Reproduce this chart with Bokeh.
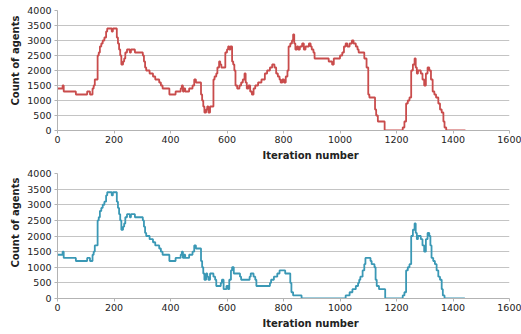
from bokeh.plotting import figure
from bokeh.layouts import column
from bokeh.models import Title, Range1d, FixedTicker
from bokeh.embed import file_html
from bokeh.resources import INLINE

# Shared beginning (iteration, count) breakpoints
common_iter = [0, 18, 22, 65, 105, 115, 124, 128, 132, 142, 146, 150, 155, 160, 166, 172, 176, 192, 196,
               210, 214, 218, 222, 226, 232, 236, 240, 246, 256, 260, 274, 302, 306, 310, 314, 326, 338,
               346, 360, 366, 372, 396, 418, 436, 440, 444, 448, 452, 466, 478, 484, 490]
common_val = [1400, 1500, 1300, 1200, 1300, 1200, 1400, 1500, 1700, 2500, 2600, 2800, 2900, 3000, 3100, 3300, 3400, 3300, 3400,
              3100, 2900, 2700, 2500, 2200, 2300, 2400, 2600, 2700, 2600, 2700, 2600, 2500, 2300, 2100, 2000, 1900, 1800,
              1700, 1600, 1500, 1400, 1200, 1300, 1400, 1500, 1300, 1400, 1300, 1400, 1500, 1700, 1600]

red_iter = [508, 512, 516, 520, 526, 530, 534, 540, 552, 556, 562, 566, 572, 576, 580, 594, 600, 604, 608, 612,
            618, 622, 626, 630, 636, 644, 650, 656, 662, 666, 670, 676, 682, 688, 694, 700, 710, 722, 734, 742,
            752, 760, 768, 774, 780, 786, 790, 796, 802, 808, 814, 818, 824, 830, 834, 838, 842, 848, 852, 858,
            866, 872, 878, 890, 896, 900, 906, 910, 960, 972, 978, 1000, 1008, 1014, 1020, 1026, 1034, 1042, 1048,
            1056, 1062, 1066, 1086, 1094, 1100, 1104, 1124, 1128, 1134, 1158, 1222, 1228, 1234, 1240, 1246, 1252,
            1258, 1264, 1268, 1272, 1276, 1286, 1292, 1298, 1304, 1310, 1316, 1322, 1328, 1334, 1340, 1348, 1354,
            1360, 1366, 1370, 1376, 1444]
red_val = [1200, 1000, 800, 600, 700, 800, 600, 800, 1700, 1800, 1900, 2100, 2300, 2200, 2100, 2600, 2700, 2800, 2700, 2800,
           2300, 2200, 2000, 1500, 1400, 1500, 1600, 1700, 1900, 1600, 1400, 1500, 1300, 1200, 1400, 1500, 1600, 1700, 1900, 2000,
           2100, 2200, 2100, 1900, 1800, 1700, 1600, 1700, 1600, 1800, 2000, 2800, 2900, 3000, 3200, 2900, 2700, 2800, 2700, 2800,
           2900, 2700, 2800, 2900, 2800, 2700, 2600, 2400, 2300, 2200, 2400, 2500, 2600, 2800, 2900, 2800, 2900, 3000, 2900,
           2800, 2700, 2600, 2400, 2100, 1200, 1100, 700, 500, 300, 0, 100, 300, 900, 1000, 1100, 2000,
           2200, 2400, 2100, 1900, 2000, 1900, 1700, 1500, 1900, 2100, 2000, 1700, 1300, 1200, 1100, 900, 700,
           600, 300, 100, 0, 0]

blue_iter = [508, 512, 516, 520, 526, 530, 534, 540, 552, 558, 562, 578, 582, 588, 598, 604, 608, 614, 618, 624,
             646, 650, 680, 684, 694, 700, 704, 752, 756, 766, 778, 786, 806, 824, 828, 834, 864, 1020, 1034, 1044,
             1056, 1064, 1068, 1072, 1080, 1086, 1090, 1108, 1112, 1122, 1126, 1130, 1138, 1160, 1222, 1228, 1234,
             1240, 1246, 1252, 1258, 1264, 1268, 1272, 1276, 1286, 1292, 1298, 1304, 1310, 1316, 1320, 1324, 1330,
             1336, 1342, 1348, 1354, 1360, 1364, 1370, 1442]
blue_val = [1200, 1000, 800, 600, 800, 700, 600, 800, 700, 600, 400, 500, 600, 300, 400, 300, 600, 900, 1000, 800,
            700, 600, 700, 800, 700, 600, 400, 500, 600, 700, 800, 900, 800, 500, 200, 100, 0, 100, 200, 300,
            400, 500, 600, 700, 900, 1100, 1300, 1200, 1100, 1000, 600, 400, 300, 0, 100, 200, 900,
            1000, 1100, 2000, 2200, 2400, 2100, 1900, 2000, 1900, 1700, 1500, 1900, 2100, 2000, 1700, 1300, 1200,
            1100, 900, 700, 600, 300, 100, 0, 0]

x_ticks = [0, 200, 400, 600, 800, 1000, 1200, 1400, 1600]
y_ticks = [0, 500, 1000, 1500, 2000, 2500, 3000, 3500, 4000]

FONT = "DejaVu Sans"


def make_fig(xs, ys, color, top, fh, bottom, ylab_offset):
    p = figure(width=521, height=top + fh + bottom, output_backend="svg", toolbar_location=None,
               x_range=Range1d(0, 1600), y_range=Range1d(0, 4000),
               min_border_left=57, min_border_right=12, min_border_top=top, min_border_bottom=bottom)
    p.frame_height = fh
    p.frame_width = 452
    p.outline_line_color = None
    p.background_fill_color = "white"
    p.border_fill_color = "white"
    p.step(xs, ys, mode="after", line_color=color, line_width=1.8)

    p.xaxis.ticker = FixedTicker(ticks=x_ticks)
    p.yaxis.ticker = FixedTicker(ticks=y_ticks)
    p.xgrid.grid_line_color = None
    p.ygrid.grid_line_color = "#c4c4c4"
    p.ygrid.grid_line_width = 1
    for ax in (p.xaxis, p.yaxis):
        ax.axis_line_color = "#b3b3b3"
        ax.major_tick_line_color = "#b3b3b3"
        ax.minor_tick_line_color = None
        ax.major_label_text_font = FONT
        ax.major_label_text_font_size = "9.5px"
        ax.major_label_text_color = "#222222"
        ax.major_tick_out = 3
        ax.major_tick_in = 0
    p.xaxis.major_label_standoff = 2
    p.yaxis.major_label_standoff = 3

    p.add_layout(Title(text="Iteration number", align="left", offset=205, text_font=FONT,
                       text_font_size="10px", text_font_style="bold", text_color="#222222",
                       standoff=4), "below")
    p.add_layout(Title(text="Count of agents", align="left", offset=ylab_offset, text_font=FONT,
                       text_font_size="10px", text_font_style="bold", text_color="#222222",
                       standoff=7), "left")
    return p


p1 = make_fig(common_iter + red_iter, common_val + red_val, "#c94c4c", 10, 120, 35, 25)
p2 = make_fig(common_iter + blue_iter, common_val + blue_val, "#3a98b5", 8, 125, 36, 31)

layout = column(p1, p2, spacing=0)

open("out.html", "w").write(file_html(layout, INLINE))
